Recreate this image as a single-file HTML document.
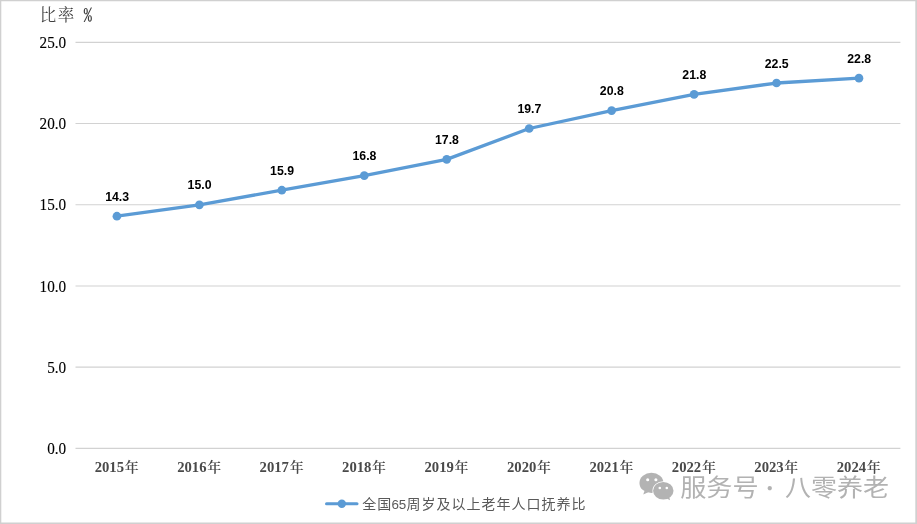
<!DOCTYPE html>
<html lang="zh-CN"><head><meta charset="utf-8"><title>全国65周岁及以上老年人口抚养比</title>
<style>
html,body{margin:0;padding:0;background:#fff;}
body{width:917px;height:524px;overflow:hidden;position:relative;}
svg{display:block;position:absolute;left:0;top:0;}
.ax{font-family:"Liberation Serif","Noto Serif CJK SC",serif;font-size:15.7px;fill:#000;stroke:#000;stroke-width:0.12px;}
.cat{font-family:"Liberation Serif","Noto Serif CJK SC",serif;font-size:14.67px;font-weight:bold;fill:#4a4a4a;}
.dl{font-family:"Liberation Sans","Noto Sans CJK SC",sans-serif;font-size:12.3px;font-weight:bold;fill:#000;}
.lg{font-family:"Liberation Sans","Noto Sans CJK SC",sans-serif;font-size:14px;letter-spacing:1px;fill:#595959;}
.ti{font-family:"Liberation Serif","Noto Serif CJK SC",serif;font-size:16.5px;fill:#404040;}
.pc{font-family:"IPAGothic","Liberation Mono",monospace;font-size:16.3px;fill:#404040;}
.wm{font-family:"Liberation Sans","Noto Sans CJK SC",sans-serif;font-size:24px;font-weight:400;fill:#b2b2b2;}
</style></head><body>
<svg width="917" height="524" viewBox="0 0 917 524">
<rect x="0" y="0" width="917" height="524" fill="#fff"/>
<path d="M0 0H917V524H0z M1.3 1.3V522.5H915.3V1.3z" fill="#d0d0d0" fill-rule="evenodd"/>
<line x1="75.5" y1="448.40" x2="900.4" y2="448.40" stroke="#d2d2d2" stroke-width="1.15"/>
<text class="ax" transform="translate(66.2 454.00) scale(0.97 1)" x="0" y="0" text-anchor="end">0.0</text>
<line x1="75.5" y1="367.18" x2="900.4" y2="367.18" stroke="#d2d2d2" stroke-width="1.15"/>
<text class="ax" transform="translate(66.2 372.78) scale(0.97 1)" x="0" y="0" text-anchor="end">5.0</text>
<line x1="75.5" y1="285.96" x2="900.4" y2="285.96" stroke="#d2d2d2" stroke-width="1.15"/>
<text class="ax" transform="translate(66.2 291.56) scale(0.97 1)" x="0" y="0" text-anchor="end">10.0</text>
<line x1="75.5" y1="204.74" x2="900.4" y2="204.74" stroke="#d2d2d2" stroke-width="1.15"/>
<text class="ax" transform="translate(66.2 210.34) scale(0.97 1)" x="0" y="0" text-anchor="end">15.0</text>
<line x1="75.5" y1="123.52" x2="900.4" y2="123.52" stroke="#d2d2d2" stroke-width="1.15"/>
<text class="ax" transform="translate(66.2 129.12) scale(0.97 1)" x="0" y="0" text-anchor="end">20.0</text>
<line x1="75.5" y1="42.30" x2="900.4" y2="42.30" stroke="#d2d2d2" stroke-width="1.15"/>
<text class="ax" transform="translate(66.2 47.90) scale(0.97 1)" x="0" y="0" text-anchor="end">25.0</text>
<text class="ti" x="39.8" y="20.7">比</text><text class="ti" x="57.8" y="20.7">率</text>
<text class="pc" transform="translate(83.3 20.8) scale(1.12 1)" x="0" y="0">%</text>
<text class="cat" x="116.72" y="472" text-anchor="middle">2015<tspan dx="0.7" style="font-size:14px;font-weight:600">年</tspan></text>
<text class="cat" x="199.18" y="472" text-anchor="middle">2016<tspan dx="0.7" style="font-size:14px;font-weight:600">年</tspan></text>
<text class="cat" x="281.62" y="472" text-anchor="middle">2017<tspan dx="0.7" style="font-size:14px;font-weight:600">年</tspan></text>
<text class="cat" x="364.07" y="472" text-anchor="middle">2018<tspan dx="0.7" style="font-size:14px;font-weight:600">年</tspan></text>
<text class="cat" x="446.53" y="472" text-anchor="middle">2019<tspan dx="0.7" style="font-size:14px;font-weight:600">年</tspan></text>
<text class="cat" x="528.98" y="472" text-anchor="middle">2020<tspan dx="0.7" style="font-size:14px;font-weight:600">年</tspan></text>
<text class="cat" x="611.43" y="472" text-anchor="middle">2021<tspan dx="0.7" style="font-size:14px;font-weight:600">年</tspan></text>
<text class="cat" x="693.88" y="472" text-anchor="middle">2022<tspan dx="0.7" style="font-size:14px;font-weight:600">年</tspan></text>
<text class="cat" x="776.33" y="472" text-anchor="middle">2023<tspan dx="0.7" style="font-size:14px;font-weight:600">年</tspan></text>
<text class="cat" x="858.77" y="472" text-anchor="middle">2024<tspan dx="0.7" style="font-size:14px;font-weight:600">年</tspan></text>
<path d="M116.92 216.21 L199.38 204.84 L281.82 190.22 L364.27 175.60 L446.73 159.36 L529.18 128.49 L611.63 110.62 L694.08 94.38 L776.53 83.01 L858.98 78.14" fill="none" stroke="#5b9bd5" stroke-width="3.3" stroke-linejoin="round" stroke-linecap="round"/>
<circle cx="116.92" cy="216.21" r="4.35" fill="#5b9bd5"/>
<text class="dl" x="117.12" y="200.71" text-anchor="middle">14.3</text>
<circle cx="199.38" cy="204.84" r="4.35" fill="#5b9bd5"/>
<text class="dl" x="199.57" y="189.34" text-anchor="middle">15.0</text>
<circle cx="281.82" cy="190.22" r="4.35" fill="#5b9bd5"/>
<text class="dl" x="282.02" y="174.72" text-anchor="middle">15.9</text>
<circle cx="364.27" cy="175.60" r="4.35" fill="#5b9bd5"/>
<text class="dl" x="364.47" y="160.10" text-anchor="middle">16.8</text>
<circle cx="446.73" cy="159.36" r="4.35" fill="#5b9bd5"/>
<text class="dl" x="446.93" y="143.86" text-anchor="middle">17.8</text>
<circle cx="529.18" cy="128.49" r="4.35" fill="#5b9bd5"/>
<text class="dl" x="529.38" y="112.99" text-anchor="middle">19.7</text>
<circle cx="611.63" cy="110.62" r="4.35" fill="#5b9bd5"/>
<text class="dl" x="611.83" y="95.12" text-anchor="middle">20.8</text>
<circle cx="694.08" cy="94.38" r="4.35" fill="#5b9bd5"/>
<text class="dl" x="694.28" y="78.88" text-anchor="middle">21.8</text>
<circle cx="776.53" cy="83.01" r="4.35" fill="#5b9bd5"/>
<text class="dl" x="776.73" y="67.51" text-anchor="middle">22.5</text>
<circle cx="858.98" cy="78.14" r="4.35" fill="#5b9bd5"/>
<text class="dl" x="859.18" y="62.64" text-anchor="middle">22.8</text>
<line x1="326.5" y1="503.7" x2="357" y2="503.7" stroke="#5b9bd5" stroke-width="3" stroke-linecap="round"/>
<circle cx="341.8" cy="503.7" r="4.2" fill="#5b9bd5"/>
<text class="lg" y="508.6"><tspan x="362.3">全国</tspan><tspan x="391.4" style="letter-spacing:0;font-size:13.4px">65</tspan><tspan x="406.6">周岁及以上老年人口抚养比</tspan></text>
<g fill="#b3b3b3">
<ellipse cx="651.45" cy="482.9" rx="12" ry="10.2"/>
<path d="M644.6 490.6 L643.3 494.4 L648.2 492.3z"/>
<g stroke="#fff" stroke-width="1.3" paint-order="stroke"><ellipse cx="663.3" cy="490.8" rx="10.2" ry="8.8"/></g>
<path d="M666.8 498.6 L670.1 500.3 L669.4 497.4z"/>
</g>
<circle cx="647.7" cy="479.7" r="1.55" fill="#fff"/><circle cx="655.9" cy="479.7" r="1.55" fill="#fff"/>
<circle cx="659.8" cy="488" r="1.3" fill="#fff"/><circle cx="666.8" cy="488" r="1.3" fill="#fff"/>
<text class="wm" transform="translate(680.2 496.4) scale(1.09 1)">服务号</text>
<text class="wm" x="759.7" y="495.6" style="font-size:20px;font-family:'Noto Sans CJK SC','Liberation Sans',sans-serif">·</text>
<text class="wm" transform="translate(785 496.4) scale(1.085 1)">八零养老</text>
</svg></body></html>
